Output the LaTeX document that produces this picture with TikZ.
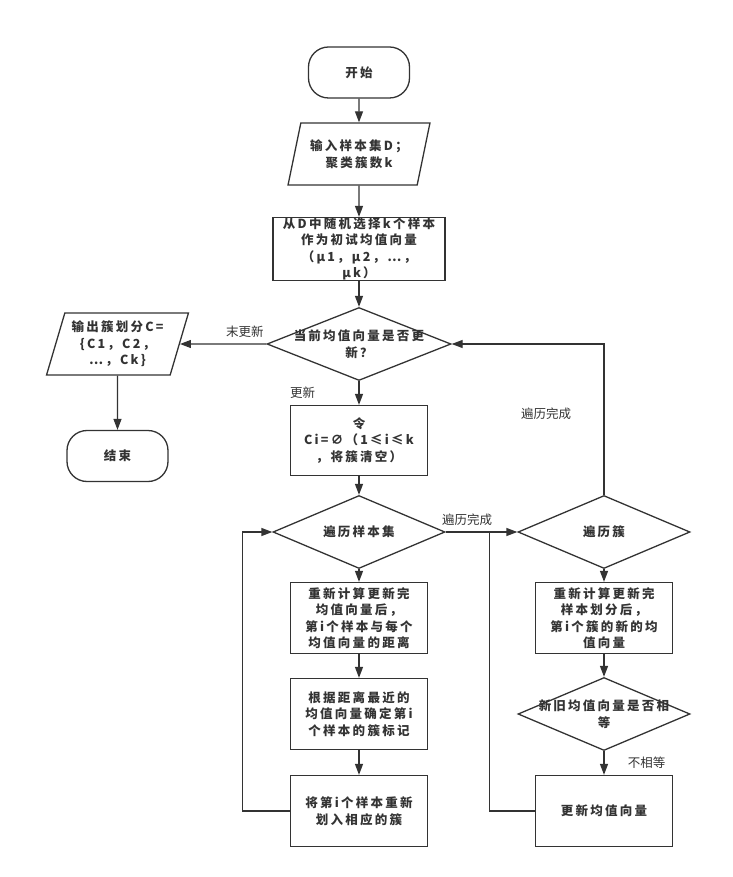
\documentclass[tikz,border=0pt]{standalone}
\usepackage{fontspec}
\setmainfont{Noto Sans CJK SC}
\newfontfamily\boxfont{Noto Sans CJK SC}[LetterSpace=18]
\usetikzlibrary{shapes, arrows.meta, positioning}
\definecolor{linegray}{HTML}{333333}
\tikzstyle{startstop} = [rectangle, rounded corners=20pt, minimum width=101pt, minimum height=51pt, text centered, draw=linegray, line width=1.3pt]
\tikzstyle{io} = [trapezium, trapezium stretches=true, trapezium left angle=72, trapezium right angle=108, minimum width=142pt, minimum height=62pt, text centered, draw=linegray, line width=1.3pt]
\tikzstyle{process} = [rectangle, minimum width=137pt, minimum height=71pt, text centered, draw=linegray, line width=1.3pt]
\tikzstyle{decision} = [diamond, aspect=2.36, minimum width=172pt, minimum height=73pt, inner xsep=-20pt, inner ysep=0pt, text centered, draw=linegray, line width=1.3pt]
\tikzstyle{arrow} = [draw=linegray, line width=1.3pt, ->, >={Triangle[length=11pt,width=8pt]}]
\tikzstyle{joinline} = [draw=linegray, line width=1.3pt]
\tikzstyle{note} = [font=\fontsize{12.5pt}{15pt}\selectfont, text=linegray]

\begin{document}
\begin{tikzpicture}[node distance=95pt, align=center, font=\boxfont\bfseries\fontsize{12.5pt}{16.5pt}\selectfont, text=linegray]
    \useasboundingbox (-359pt,72.5pt) rectangle (373pt,-804.5pt);
    % Nodes
    \node (start) [startstop] {开始};
    \node (input) [io, below of=start, yshift=13.5pt] {输入样本集D；\\聚类簇数k};
    \node (init) [process, below of=input, minimum width=172pt, minimum height=63pt, inner ysep=0pt] {从D中随机选择k个样本\\作为初试均值向量\\（μ1，μ2，⋯，\\μk）};
    \node (check) [decision, below of=init, minimum width=184pt] {当前均值向量是否更\\新？};
    \node (output) [io, left of=check, xshift=-146.5pt] {输出簇划分C=\\\{C1，C2，\\⋯，Ck\}};
    \node (stop) [startstop, below of=output, yshift=-17pt] {结束};
    \node (clear) [process, below of=check, yshift=-1.5pt, minimum height=70pt] {令\\Ci=∅（1≤i≤k\\，将簇清空）};
    \node (loopset) [decision, below of=clear, yshift=3.5pt] {遍历样本集};
    \node (dist) [process, below of=loopset, yshift=9pt] {重新计算更新完\\均值向量后，\\第i个样本与每个\\均值向量的距离};
    \node (mark) [process, below of=dist, yshift=-1pt] {根据距离最近的\\均值向量确定第i\\个样本的簇标记};
    \node (assign) [process, below of=mark, yshift=-2pt] {将第i个样本重新\\划入相应的簇};
    \node (loopcl) [decision, right of=loopset, xshift=150pt] {遍历簇};
    \node (newmean) [process, below of=loopcl, yshift=9pt] {重新计算更新完\\样本划分后，\\第i个簇的新的均\\值向量};
    \node (same) [decision, below of=newmean, yshift=-1pt] {新旧均值向量是否相\\等};
    \node (update) [process, below of=same, yshift=-2pt] {更新均值向量};
    \coordinate (merge) at ([xshift=44pt]loopset.east);

    % Arrows
    \draw [arrow] (start) -- (input);
    \draw [arrow] (input) -- (init);
    \draw [arrow] (init) -- (check);
    \draw [arrow] (check) -- node[note, pos=0.25, above, yshift=3pt] {末更新} (output);
    \draw [arrow] (output) -- (stop);
    \draw [arrow] (check) -- node[note, anchor=east, xshift=-40pt] {更新} (clear);
    \draw [arrow] (clear) -- (loopset);
    \draw [arrow] (loopset) -- node[note, pos=0.3, above, yshift=2pt] {遍历完成} (loopcl);
    \draw [arrow] (loopset) -- (dist);
    \draw [arrow] (dist) -- (mark);
    \draw [arrow] (mark) -- (assign);
    \draw [arrow] (assign.west) -- ++(-47pt,0) |- (loopset.west);
    \draw [arrow] (loopcl) -- (newmean);
    \draw [arrow] (newmean) -- (same);
    \draw [arrow] (same) -- node[note, anchor=west, xshift=20pt] {不相等} (update);
    \draw [joinline] (update.west) -| (merge);
    \draw [arrow] (loopcl.north) |- node[note, pos=0.27, left, xshift=-29pt] {遍历完成} (check.east);

  \end{tikzpicture}
\end{document}
